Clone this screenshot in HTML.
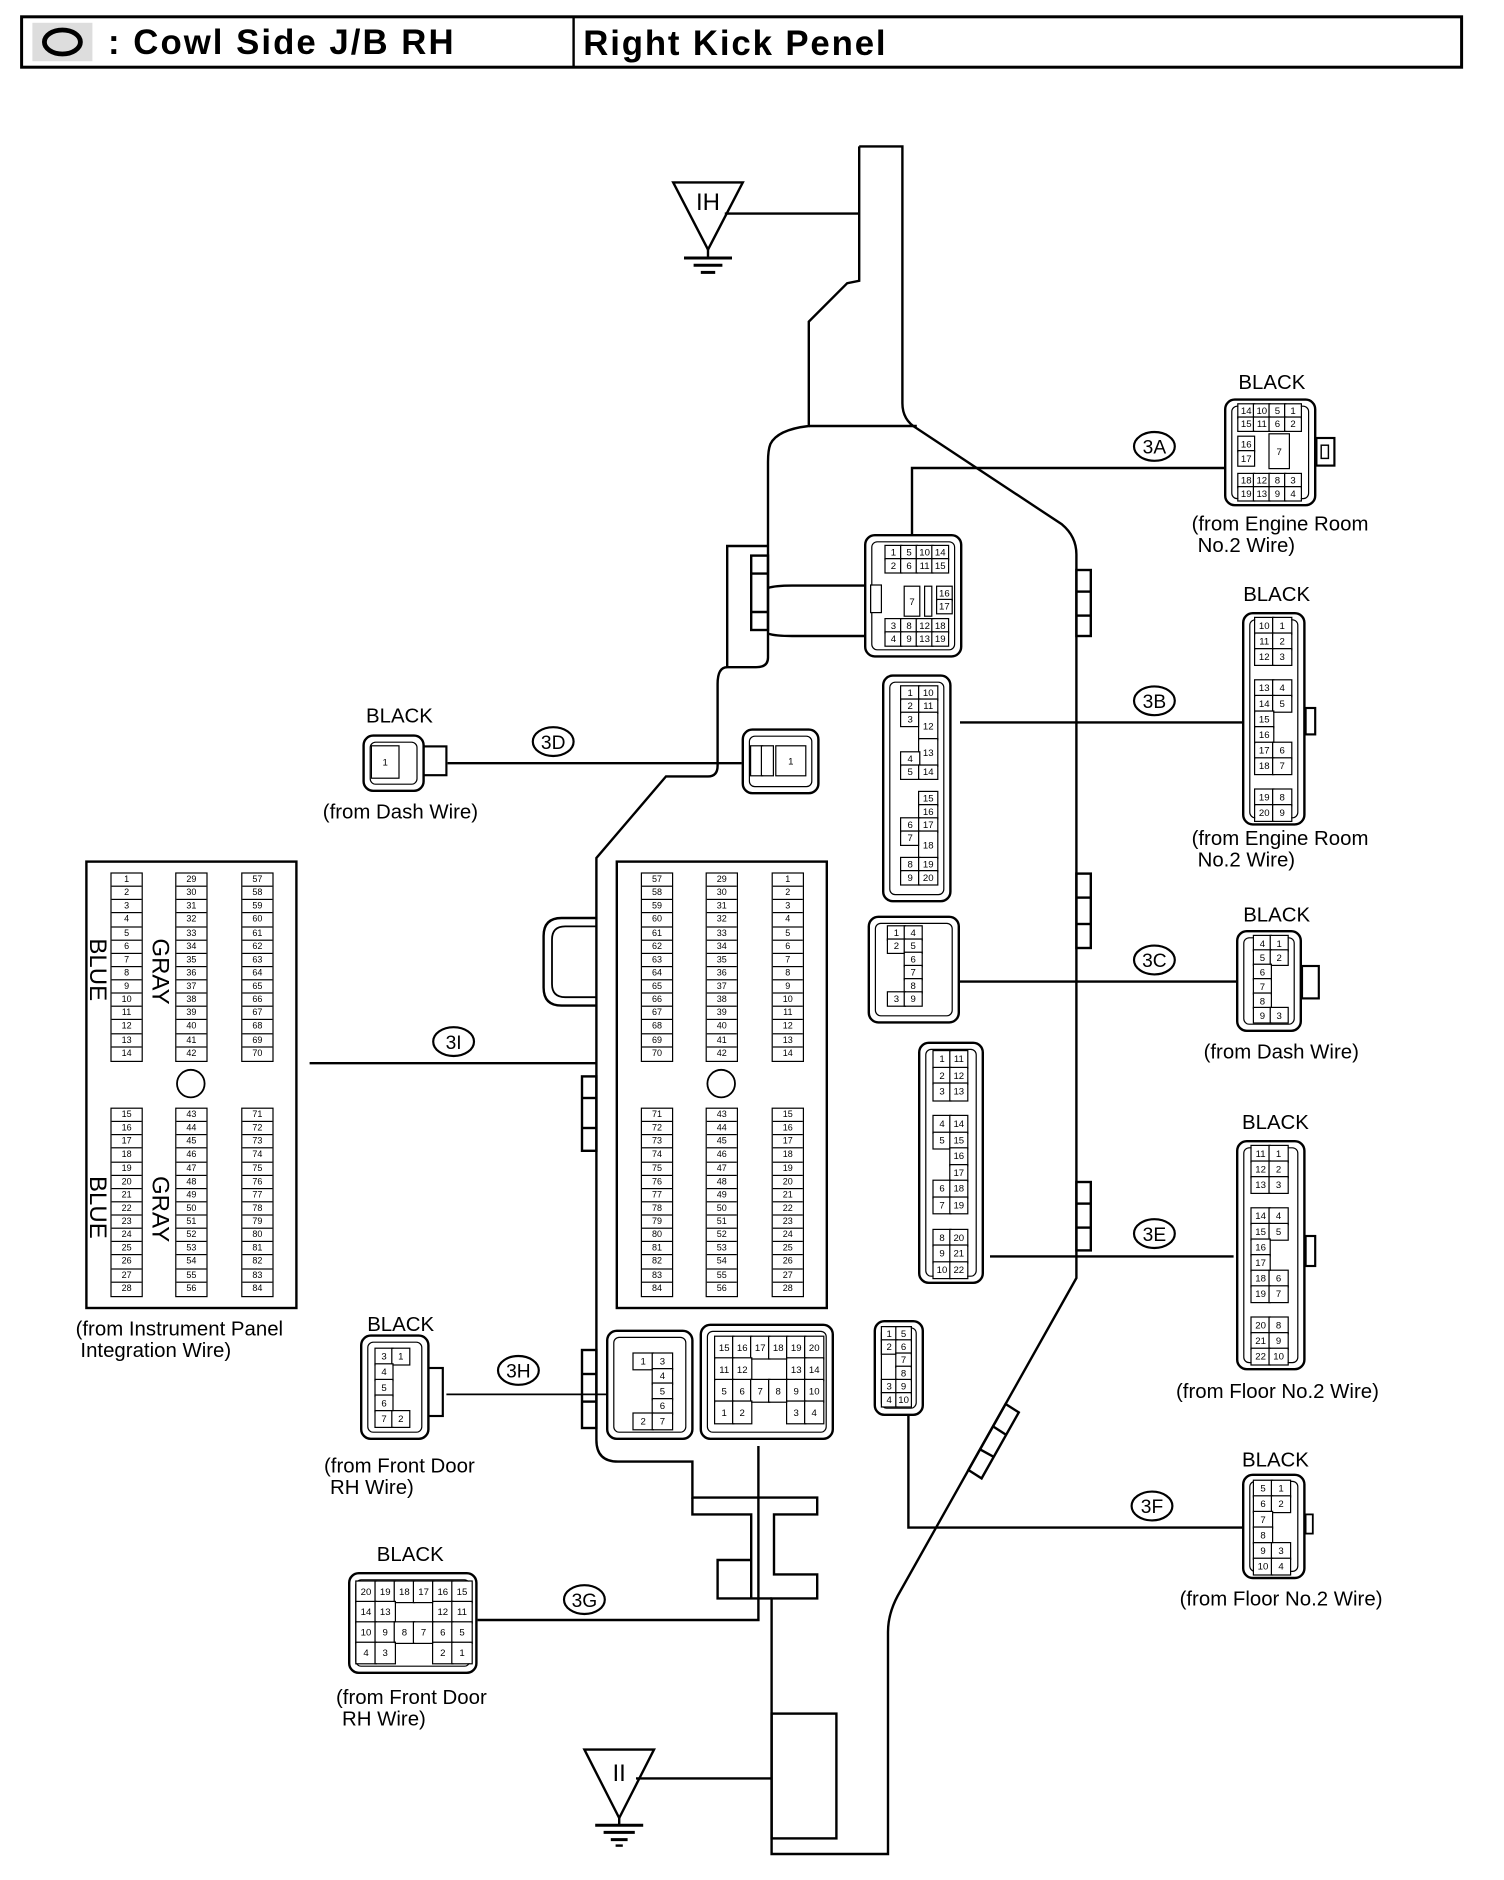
<!DOCTYPE html>
<html><head><meta charset="utf-8">
<style>
html,body{margin:0;padding:0;background:#fff}
body{width:1504px;height:1880px;overflow:hidden;position:relative}
#c{position:absolute;left:0;top:0;width:1253px;height:1567px;transform-origin:0 0;transform:scale(1.2,1.2)}
svg{position:absolute;left:0;top:0}
.t{position:absolute;font-family:"Liberation Sans",sans-serif;font-size:17px;white-space:nowrap;line-height:1;color:#000}
.k{position:absolute;border:2.5px solid #000;border-radius:9px;box-sizing:border-box;background:#fff}
.k::after{content:"";position:absolute;left:4px;top:4px;right:4px;bottom:4px;border:1.5px solid #000;border-radius:5px}
.g{position:absolute;display:grid;z-index:2}
.g i{font-style:normal;display:flex;align-items:center;justify-content:center;outline:1.2px solid #000;outline-offset:-0.6px;font:8px "Liberation Sans",sans-serif;background:#fff}
.g i.e{outline:none;background:transparent}
.col{position:absolute;width:27px;display:flex;flex-direction:column;border:1.5px solid #000;box-sizing:border-box}
.col i{font-style:normal;height:11.14px;border-bottom:1px solid #000;box-sizing:border-box;font:7.5px "Liberation Sans",sans-serif;text-align:center;line-height:10px}
.col i:last-child{border-bottom:none}
.v{position:absolute;font-family:"Liberation Sans",sans-serif;font-size:20px;transform-origin:0 0;transform:rotate(90deg);white-space:nowrap;line-height:1}
</style></head><body>
<div id="c">
<svg width="1253" height="1567" viewBox="0 0 1253 1567" fill="none" stroke="#000" stroke-width="2">
<rect x="18" y="14" width="1200" height="42" stroke-width="2.5"/>
<line x1="478" y1="14" x2="478" y2="56"/>
<rect x="27" y="19" width="50" height="32" fill="#ddd" stroke="none"/>
<ellipse cx="52" cy="35" rx="15" ry="10" stroke-width="4"/>
<text x="90" y="45" font-family="Liberation Sans" font-weight="bold" font-size="29" fill="#000" stroke="none" textLength="288">: Cowl Side J/B RH</text>
<text x="486" y="46" font-family="Liberation Sans" font-weight="bold" font-size="29" fill="#000" stroke="none" textLength="252">Right Kick Penel</text>
<polygon points="561,152 619,152 590,208"/>
<text x="590" y="175" font-family="Liberation Sans" font-size="20" fill="#000" stroke="none" text-anchor="middle">IH</text>
<line x1="604" y1="178" x2="716" y2="178"/>
<line x1="590" y1="208" x2="590" y2="214"/>
<line x1="570" y1="215" x2="610" y2="215" stroke-width="2.5"/>
<line x1="578" y1="221" x2="602" y2="221" stroke-width="2.5"/>
<line x1="584" y1="227" x2="596" y2="227" stroke-width="2.5"/>
<polygon points="487,1458 545,1458 516,1515"/>
<text x="516" y="1484" font-family="Liberation Sans" font-size="20" fill="#000" stroke="none" text-anchor="middle">II</text>
<line x1="530" y1="1482" x2="643" y2="1482"/>
<line x1="516" y1="1515" x2="516" y2="1520"/>
<line x1="496" y1="1521" x2="536" y2="1521" stroke-width="2.5"/>
<line x1="503" y1="1527" x2="529" y2="1527" stroke-width="2.5"/>
<line x1="509" y1="1533" x2="523" y2="1533" stroke-width="2.5"/>
<line x1="513" y1="1538" x2="519" y2="1538" stroke-width="2"/>
<path d="M716,122 H752 V336 Q752,350 764,357 L885,437 Q897,447 897,462 V1065 L748,1330 Q740,1345 740,1360 V1545 H643 V1332 H681 V1312 H645 V1262 H681 V1248 H577 V1218 H515 Q497,1218 497,1200 V715 L555,647 H590 Q598,647 598,638 V570 Q598,556 606,556"/>
<path d="M716,122 V234 L706,236 L674,268 V355 Q648,358 642,370 Q640,375 640,385 V548 Q640,556 630,556 H606 V455 H640"/>
<line x1="674" y1="355" x2="764" y2="355"/>
<path d="M577,1248 V1262 H626 V1332 H598 V1300 H626 M626,1332 H643"/>
<rect x="643" y="1428" width="54" height="104"/>
<rect x="626" y="463" width="14" height="62"/><line x1="626" y1="478" x2="640" y2="478"/><line x1="626" y1="510" x2="640" y2="510"/>
<path d="M640,490 Q646,488 660,488 H720 M640,528 Q646,530 660,530 H720"/>
<rect x="897" y="475" width="12" height="55"/><line x1="897" y1="493" x2="909" y2="493"/><line x1="897" y1="513" x2="909" y2="513"/>
<rect x="897" y="728" width="12" height="62"/><line x1="897" y1="748" x2="909" y2="748"/><line x1="897" y1="770" x2="909" y2="770"/>
<rect x="897" y="985" width="12" height="57"/><line x1="897" y1="1003" x2="909" y2="1003"/><line x1="897" y1="1023" x2="909" y2="1023"/>
<rect x="485" y="897" width="12" height="62"/><line x1="485" y1="915" x2="497" y2="915"/><line x1="485" y1="940" x2="497" y2="940"/>
<rect x="485" y="1125" width="12" height="65"/><line x1="485" y1="1145" x2="497" y2="1145"/><line x1="485" y1="1168" x2="497" y2="1168"/>
<polygon points="838,1170 849,1177 818,1232 807,1225"/>
<line x1="828" y1="1189" x2="839" y2="1196"/><line x1="817" y1="1208" x2="828" y2="1214"/>
<path d="M497,765 H468 Q453,765 453,780 V823 Q453,838 468,838 H497"/>
<path d="M497,772 H471 Q460,772 460,783 V820 Q460,831 471,831 H497" stroke-width="1.5"/>
<rect x="72" y="718" width="175" height="372"/>
<circle cx="159" cy="903" r="11.5" stroke-width="1.5"/>
<rect x="514" y="718" width="175" height="372"/>
<circle cx="601" cy="903" r="11.5" stroke-width="1.5"/>
<line x1="258" y1="886" x2="497" y2="886"/>
<path d="M760,445 V390 H1020"/>
<line x1="800" y1="602" x2="1035" y2="602"/>
<line x1="800" y1="818" x2="1030" y2="818"/>
<line x1="373" y1="636" x2="618" y2="636"/>
<line x1="825" y1="1047" x2="1028" y2="1047"/>
<path d="M757,1180 V1273 H1035"/>
<line x1="372" y1="1162" x2="505" y2="1162" stroke-width="1.5"/>
<path d="M632,1205 V1350 H398"/>
<g stroke-width="1.8">
<ellipse cx="962" cy="372" rx="17" ry="12"/>
<ellipse cx="962" cy="584" rx="17" ry="12"/>
<ellipse cx="962" cy="800" rx="17" ry="12"/>
<ellipse cx="461" cy="618" rx="17" ry="12"/>
<ellipse cx="962" cy="1028" rx="17" ry="12"/>
<ellipse cx="960" cy="1255" rx="17" ry="12"/>
<ellipse cx="432" cy="1142" rx="17" ry="12"/>
<ellipse cx="487" cy="1333" rx="17" ry="12"/>
<ellipse cx="378" cy="868" rx="17" ry="12"/>
</g>
<g font-family="Liberation Sans" font-size="16" fill="#000" stroke="none" text-anchor="middle">
<text x="962" y="378">3A</text><text x="962" y="590">3B</text><text x="962" y="806">3C</text>
<text x="461" y="624">3D</text><text x="962" y="1034">3E</text><text x="960" y="1261">3F</text>
<text x="432" y="1148">3H</text><text x="487" y="1339">3G</text><text x="378" y="874">3I</text>
</g>
<rect x="1097" y="365" width="15" height="23" stroke-width="1.8"/><rect x="1101" y="371" width="6" height="11" stroke-width="1.2"/>
<rect x="1088" y="590" width="8" height="22" stroke-width="1.8"/>
<rect x="1085" y="805" width="14" height="27" stroke-width="1.8"/>
<rect x="1088" y="1030" width="8" height="25" stroke-width="1.8"/>
<rect x="1088" y="1262" width="6" height="16" stroke-width="1.5"/>
<rect x="352" y="622" width="20" height="24" stroke-width="1.8"/>
<rect x="355" y="1140" width="14" height="40" stroke-width="1.8"/>
</svg>

<div class="col" style="left:92px;top:727px"><i>1</i><i>2</i><i>3</i><i>4</i><i>5</i><i>6</i><i>7</i><i>8</i><i>9</i><i>10</i><i>11</i><i>12</i><i>13</i><i>14</i></div>
<div class="col" style="left:146px;top:727px"><i>29</i><i>30</i><i>31</i><i>32</i><i>33</i><i>34</i><i>35</i><i>36</i><i>37</i><i>38</i><i>39</i><i>40</i><i>41</i><i>42</i></div>
<div class="col" style="left:201px;top:727px"><i>57</i><i>58</i><i>59</i><i>60</i><i>61</i><i>62</i><i>63</i><i>64</i><i>65</i><i>66</i><i>67</i><i>68</i><i>69</i><i>70</i></div>
<div class="col" style="left:92px;top:923px"><i>15</i><i>16</i><i>17</i><i>18</i><i>19</i><i>20</i><i>21</i><i>22</i><i>23</i><i>24</i><i>25</i><i>26</i><i>27</i><i>28</i></div>
<div class="col" style="left:146px;top:923px"><i>43</i><i>44</i><i>45</i><i>46</i><i>47</i><i>48</i><i>49</i><i>50</i><i>51</i><i>52</i><i>53</i><i>54</i><i>55</i><i>56</i></div>
<div class="col" style="left:201px;top:923px"><i>71</i><i>72</i><i>73</i><i>74</i><i>75</i><i>76</i><i>77</i><i>78</i><i>79</i><i>80</i><i>81</i><i>82</i><i>83</i><i>84</i></div>
<div class="v" style="left:143px;top:782px">GRAY</div>
<div class="v" style="left:91px;top:782px">BLUE</div>
<div class="v" style="left:143px;top:980px">GRAY</div>
<div class="v" style="left:91px;top:980px">BLUE</div>
<div class="col" style="left:534px;top:727px"><i>57</i><i>58</i><i>59</i><i>60</i><i>61</i><i>62</i><i>63</i><i>64</i><i>65</i><i>66</i><i>67</i><i>68</i><i>69</i><i>70</i></div>
<div class="col" style="left:588px;top:727px"><i>29</i><i>30</i><i>31</i><i>32</i><i>33</i><i>34</i><i>35</i><i>36</i><i>37</i><i>38</i><i>39</i><i>40</i><i>41</i><i>42</i></div>
<div class="col" style="left:643px;top:727px"><i>1</i><i>2</i><i>3</i><i>4</i><i>5</i><i>6</i><i>7</i><i>8</i><i>9</i><i>10</i><i>11</i><i>12</i><i>13</i><i>14</i></div>
<div class="col" style="left:534px;top:923px"><i>71</i><i>72</i><i>73</i><i>74</i><i>75</i><i>76</i><i>77</i><i>78</i><i>79</i><i>80</i><i>81</i><i>82</i><i>83</i><i>84</i></div>
<div class="col" style="left:588px;top:923px"><i>43</i><i>44</i><i>45</i><i>46</i><i>47</i><i>48</i><i>49</i><i>50</i><i>51</i><i>52</i><i>53</i><i>54</i><i>55</i><i>56</i></div>
<div class="col" style="left:643px;top:923px"><i>15</i><i>16</i><i>17</i><i>18</i><i>19</i><i>20</i><i>21</i><i>22</i><i>23</i><i>24</i><i>25</i><i>26</i><i>27</i><i>28</i></div>

<div class="k" style="left:720px;top:445px;width:82px;height:103px"></div>
<div class="g" style="left:738px;top:455px;grid-template-columns:13px 13px 13px 13px;grid-auto-rows:11px"><i>1</i><i>5</i><i>10</i><i>14</i><i>2</i><i>6</i><i>11</i><i>15</i></div>
<div class="g" style="left:754px;top:489px;grid-template-columns:12px;grid-auto-rows:24px"><i>7</i></div>
<div class="g" style="left:771px;top:489px;grid-template-columns:5px;grid-auto-rows:24px"><i></i></div>
<div class="g" style="left:781px;top:489px;grid-template-columns:12px;grid-auto-rows:11px"><i>16</i><i>17</i></div>
<div class="g" style="left:738px;top:516px;grid-template-columns:13px 13px 13px 13px;grid-auto-rows:11px"><i>3</i><i>8</i><i>12</i><i>18</i><i>4</i><i>9</i><i>13</i><i>19</i></div>
<div class="g" style="left:726px;top:488px;grid-template-columns:8px;grid-auto-rows:22px"><i></i></div>
<div class="t" style="left:1032px;top:310px">BLACK</div>
<div class="k" style="left:1020px;top:332px;width:77px;height:90px"></div>
<div class="g" style="left:1032px;top:337px;grid-template-columns:13px 13px 13px 13px;grid-auto-rows:11px"><i>14</i><i>10</i><i>5</i><i>1</i><i>15</i><i>11</i><i>6</i><i>2</i></div>
<div class="g" style="left:1032px;top:364px;grid-template-columns:13px;grid-auto-rows:12px"><i>16</i><i>17</i></div>
<div class="g" style="left:1058px;top:362px;grid-template-columns:16px;grid-auto-rows:28px"><i>7</i></div>
<div class="g" style="left:1032px;top:395px;grid-template-columns:13px 13px 13px 13px;grid-auto-rows:11px"><i>18</i><i>12</i><i>8</i><i>3</i><i>19</i><i>13</i><i>9</i><i>4</i></div>
<div class="t" style="left:993px;top:428px">(from Engine Room</div>
<div class="t" style="left:998px;top:446px">No.2 Wire)</div>

<div class="k" style="left:735px;top:562px;width:58px;height:190px"></div>
<div class="g" style="left:751px;top:572px;grid-template-columns:15px 15px;grid-auto-rows:11px"><i>1</i><i>10</i><i>2</i><i>11</i><i>3</i><i style="grid-row:span 2">12</i><i class="e"></i><i class="e"></i><i style="grid-row:span 2">13</i><i>4</i><i>5</i><i>14</i><i class="e"></i><i class="e"></i><i class="e"></i><i>15</i><i class="e"></i><i>16</i><i>6</i><i>17</i><i>7</i><i style="grid-row:span 2">18</i><i class="e"></i><i>8</i><i>19</i><i>9</i><i>20</i></div>
<div class="t" style="left:1036px;top:487px">BLACK</div>
<div class="k" style="left:1035px;top:510px;width:53px;height:178px"></div>
<div class="g" style="left:1046px;top:515px;grid-template-columns:15px 15px;grid-auto-rows:13px"><i>10</i><i>1</i><i>11</i><i>2</i><i>12</i><i>3</i><i class="e"></i><i class="e"></i><i>13</i><i>4</i><i>14</i><i>5</i><i>15</i><i class="e"></i><i>16</i><i class="e"></i><i>17</i><i>6</i><i>18</i><i>7</i><i class="e"></i><i class="e"></i><i>19</i><i>8</i><i>20</i><i>9</i></div>
<div class="t" style="left:993px;top:690px">(from Engine Room</div>
<div class="t" style="left:998px;top:708px">No.2 Wire)</div>

<div class="k" style="left:723px;top:763px;width:77px;height:90px"></div>
<div class="g" style="left:740px;top:772px;grid-template-columns:14px 14px;grid-auto-rows:11px"><i>1</i><i>4</i><i>2</i><i>5</i><i class="e"></i><i>6</i><i class="e"></i><i>7</i><i class="e"></i><i>8</i><i>3</i><i>9</i></div>
<div class="t" style="left:1036px;top:754px">BLACK</div>
<div class="k" style="left:1030px;top:775px;width:55px;height:85px"></div>
<div class="g" style="left:1045px;top:780px;grid-template-columns:14px 14px;grid-auto-rows:12px"><i>4</i><i>1</i><i>5</i><i>2</i><i>6</i><i class="e"></i><i>7</i><i class="e"></i><i>8</i><i class="e"></i><i>9</i><i>3</i></div>
<div class="t" style="left:1003px;top:868px">(from Dash Wire)</div>

<div class="k" style="left:618px;top:607px;width:65px;height:55px"></div>
<div class="g" style="left:647px;top:622px;grid-template-columns:24px;grid-auto-rows:24px"><i>1</i></div>
<div class="g" style="left:626px;top:622px;grid-template-columns:9px 9px;grid-auto-rows:24px"><i></i><i></i></div>
<div class="t" style="left:305px;top:588px">BLACK</div>
<div class="k" style="left:302px;top:612px;width:52px;height:48px"></div>
<div class="g" style="left:310px;top:622px;grid-template-columns:22px;grid-auto-rows:26px"><i>1</i></div>
<div class="t" style="left:269px;top:668px">(from Dash Wire)</div>

<div class="k" style="left:765px;top:868px;width:55px;height:202px"></div>
<div class="g" style="left:778px;top:876px;grid-template-columns:14px 14px;grid-auto-rows:13.5px"><i>1</i><i>11</i><i>2</i><i>12</i><i>3</i><i>13</i><i class="e"></i><i class="e"></i><i>4</i><i>14</i><i>5</i><i>15</i><i class="e"></i><i>16</i><i class="e"></i><i>17</i><i>6</i><i>18</i><i>7</i><i>19</i><i class="e"></i><i class="e"></i><i>8</i><i>20</i><i>9</i><i>21</i><i>10</i><i>22</i></div>
<div class="t" style="left:1035px;top:927px">BLACK</div>
<div class="k" style="left:1030px;top:950px;width:58px;height:192px"></div>
<div class="g" style="left:1043px;top:955px;grid-template-columns:15px 15px;grid-auto-rows:13px"><i>11</i><i>1</i><i>12</i><i>2</i><i>13</i><i>3</i><i class="e"></i><i class="e"></i><i>14</i><i>4</i><i>15</i><i>5</i><i>16</i><i class="e"></i><i>17</i><i class="e"></i><i>18</i><i>6</i><i>19</i><i>7</i><i class="e"></i><i class="e"></i><i>20</i><i>8</i><i>21</i><i>9</i><i>22</i><i>10</i></div>
<div class="t" style="left:980px;top:1151px">(from Floor No.2 Wire)</div>

<div class="k" style="left:728px;top:1100px;width:42px;height:80px"></div>
<div class="g" style="left:735px;top:1106px;grid-template-columns:12px 12px;grid-auto-rows:11px"><i>1</i><i>5</i><i>2</i><i>6</i><i class="e"></i><i>7</i><i class="e"></i><i>8</i><i>3</i><i>9</i><i>4</i><i>10</i></div>
<div class="t" style="left:1035px;top:1208px">BLACK</div>
<div class="k" style="left:1035px;top:1228px;width:53px;height:88px"></div>
<div class="g" style="left:1045px;top:1234px;grid-template-columns:15px 15px;grid-auto-rows:13px"><i>5</i><i>1</i><i>6</i><i>2</i><i>7</i><i class="e"></i><i>8</i><i class="e"></i><i>9</i><i>3</i><i>10</i><i>4</i></div>
<div class="t" style="left:983px;top:1324px">(from Floor No.2 Wire)</div>

<div class="k" style="left:505px;top:1108px;width:73px;height:92px"></div>
<div class="g" style="left:528px;top:1128px;grid-template-columns:16px 16px;grid-auto-rows:12.5px"><i>1</i><i>3</i><i class="e"></i><i>4</i><i class="e"></i><i>5</i><i class="e"></i><i>6</i><i>2</i><i>7</i></div>
<div class="t" style="left:306px;top:1095px">BLACK</div>
<div class="k" style="left:300px;top:1112px;width:58px;height:88px"></div>
<div class="g" style="left:313px;top:1124px;grid-template-columns:14px 14px;grid-auto-rows:13px"><i>3</i><i>1</i><i>4</i><i class="e"></i><i>5</i><i class="e"></i><i>6</i><i class="e"></i><i>7</i><i>2</i></div>
<div class="t" style="left:270px;top:1213px">(from Front Door</div>
<div class="t" style="left:275px;top:1231px">RH Wire)</div>

<div class="k" style="left:583px;top:1103px;width:112px;height:97px"></div>
<div class="g" style="left:596px;top:1114px;grid-template-columns:15px 15px 15px 15px 15px 15px;grid-auto-rows:18px"><i>15</i><i>16</i><i>17</i><i>18</i><i>19</i><i>20</i><i>11</i><i>12</i><i class="e"></i><i class="e"></i><i>13</i><i>14</i><i>5</i><i>6</i><i>7</i><i>8</i><i>9</i><i>10</i><i>1</i><i>2</i><i class="e"></i><i class="e"></i><i>3</i><i>4</i></div>
<div class="t" style="left:314px;top:1287px">BLACK</div>
<div class="k" style="left:290px;top:1310px;width:108px;height:85px"></div>
<div class="g" style="left:297px;top:1318px;grid-template-columns:16px 16px 16px 16px 16px 16px;grid-auto-rows:17px"><i>20</i><i>19</i><i>18</i><i>17</i><i>16</i><i>15</i><i>14</i><i>13</i><i class="e"></i><i class="e"></i><i>12</i><i>11</i><i>10</i><i>9</i><i>8</i><i>7</i><i>6</i><i>5</i><i>4</i><i>3</i><i class="e"></i><i class="e"></i><i>2</i><i>1</i></div>
<div class="t" style="left:280px;top:1406px">(from Front Door</div>
<div class="t" style="left:285px;top:1424px">RH Wire)</div>

<div class="t" style="left:63px;top:1099px">(from Instrument Panel</div>
<div class="t" style="left:67px;top:1117px">Integration Wire)</div>
</div>
</body></html>
